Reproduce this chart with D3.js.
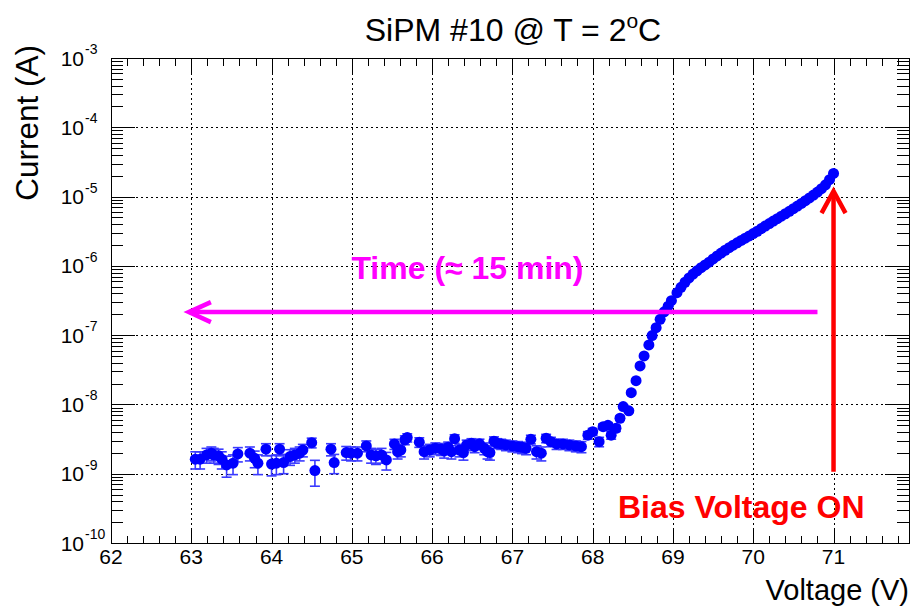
<!DOCTYPE html>
<html><head><meta charset="utf-8">
<script src="https://cdn.jsdelivr.net/npm/d3@7"></script>
<style>body{margin:0;background:#fff}svg{display:block}</style>
</head><body>
<svg id="c" width="916" height="609"></svg>
<script>
// ---------------- data ----------------
const voltage = [
  63.05,63.11,63.19,63.25,63.28,63.34,63.38,63.44,63.52,63.58,
  63.73,63.79,63.83,63.93,64.00,64.06,64.10,64.15,64.23,64.29,
  64.35,64.39,64.50,64.54,64.74,64.78,64.93,64.99,65.07,65.18,
  65.24,65.30,65.37,65.43,65.53,65.57,65.61,65.66,65.69,65.84,
  65.90,65.97,66.04,66.11,66.15,66.20,66.24,66.28,66.34,66.39,66.43,
  66.49,66.53,66.59,66.65,66.69,66.72,66.77,66.81,66.86,66.92,
  67.00,67.07,67.12,67.17,67.23,67.30,67.36,67.42,67.48,67.55,67.63,
  67.71,67.79,67.86,
  67.94,68.00,68.08,68.13,68.19,68.23,68.29,68.34,68.38,68.45,
  68.48,68.54,68.59,68.64,68.70,68.74,68.79,68.84,68.89,68.94,68.98,
  69.05,69.10,69.15,69.20,69.25,69.30,69.35,69.40,69.45,69.50,
  69.55,69.60,69.65,69.70,69.75,69.80,69.85,69.90,69.95,70.00,
  70.05,70.10,70.15,70.20,70.25,70.30,70.35,70.40,70.45,70.50,
  70.55,70.60,70.65,70.70,70.75,70.80,70.85,70.90,70.95,71.00
];
const current = [
  1.62e-9,1.62e-9,1.87e-9,1.98e-9,1.87e-9,1.81e-9,1.62e-9,1.34e-9,1.42e-9,1.93e-9,
  1.98e-9,1.67e-9,1.42e-9,2.26e-9,1.38e-9,1.42e-9,2.26e-9,1.45e-9,1.77e-9,1.87e-9,
  1.98e-9,2.20e-9,2.81e-9,1.11e-9,2.26e-9,1.45e-9,2.02e-9,1.98e-9,1.98e-9,2.52e-9,
  1.87e-9,1.81e-9,1.87e-9,1.58e-9,2.69e-9,2.08e-9,2.20e-9,3.07e-9,3.32e-9,2.85e-9,
  2.08e-9,2.20e-9,2.33e-9,2.28e-9,2.13e-9,2.41e-9,2.08e-9,3.20e-9,2.20e-9,2.02e-9,2.60e-9,
  2.75e-9,2.46e-9,2.70e-9,2.33e-9,2.08e-9,2.02e-9,2.95e-9,2.75e-9,2.69e-9,2.60e-9,
  2.52e-9,2.46e-9,2.40e-9,2.33e-9,3.14e-9,2.08e-9,1.98e-9,3.25e-9,2.90e-9,2.69e-9,2.69e-9,
  2.60e-9,2.52e-9,2.46e-9,
  3.6e-9,4.05e-9,2.9e-9,4.78e-9,5.0e-9,3.6e-9,4.53e-9,6.32e-9,9.3e-9,8.1e-9,
  1.48e-8,2.20e-8,3.59e-8,5.01e-8,7.22e-8,9.85e-8,1.28e-7,1.69e-7,2.17e-7,2.62e-7,3.14e-7,
  4.10e-7,4.90e-7,5.80e-7,6.70e-7,7.60e-7,8.50e-7,9.40e-7,1.03e-6,1.13e-6,1.26e-6,
  1.39e-6,1.53e-6,1.68e-6,1.83e-6,1.99e-6,2.15e-6,2.33e-6,2.51e-6,2.70e-6,2.92e-6,
  3.16e-6,3.45e-6,3.76e-6,4.08e-6,4.43e-6,4.80e-6,5.21e-6,5.65e-6,6.13e-6,6.68e-6,
  7.29e-6,7.96e-6,8.71e-6,9.55e-6,1.05e-5,1.16e-5,1.30e-5,1.48e-5,1.75e-5,2.16e-5
];
const currentErr = 0.45e-9;           // uncertainty of each current reading (A)
const xTickValues = [62,63,64,65,66,67,68,69,70,71];
const yDecadeExps = [-10,-9,-8,-7,-6,-5,-4,-3];
const titleMain = "SiPM #10 @ T = 2", titleSup = "o", titleEnd = "C";
const xTitle = "Voltage (V)", yTitle = "Current (A)";
const timeArrow = {label:"Time (\u2248 15 min)", from:70.80, to:62.97, level:2.15e-7, labelV:66.44, labelI:6.4e-7};
const biasArrow = {label:"Bias Voltage ON", at:71.0, from:1.07e-9, to:1.2e-5, labelV:69.85, labelI:2.3e-10};

// ---------------- layout ----------------
const X0 = 111, X1 = 909, Y0 = 58, Y1 = 543;
const FONT = "'Liberation Sans', Arial, Helvetica, sans-serif";
const svg = d3.select("#c");
const x = d3.scaleLinear().domain([62, 71.94]).range([X0, X1]);
const y = d3.scaleLog().domain([1e-10, 1e-3]).range([Y1, Y0]);
const px = v => Math.round(v) + 0.5;

// grid
const grid = svg.append("g").attr("stroke","#000").attr("stroke-width",1)
  .attr("stroke-dasharray","2,3").attr("shape-rendering","crispEdges");
grid.selectAll(".gv").data(xTickValues.filter(v => v > 62)).join("line")
  .attr("x1", d => px(x(d))).attr("x2", d => px(x(d))).attr("y1", Y0).attr("y2", Y1);
grid.selectAll(".gh").data(yDecadeExps.filter(e => e > -10 && e < -3).map(e => Math.pow(10, e))).join("line")
  .attr("y1", d => px(y(d))).attr("y2", d => px(y(d))).attr("x1", X0).attr("x2", X1);

// ticks
const ticks = svg.append("g").attr("stroke","#000").attr("stroke-width",1).attr("shape-rendering","crispEdges");
const xMinor = d3.range(62, 71.95, 0.2).filter(v => Math.abs(v - Math.round(v)) > 1e-6);
function xt(v, len){
  ticks.append("line").attr("x1",px(x(v))).attr("x2",px(x(v))).attr("y1",Y1).attr("y2",Y1-len);
  ticks.append("line").attr("x1",px(x(v))).attr("x2",px(x(v))).attr("y1",Y0).attr("y2",Y0+len);
}
xTickValues.forEach(v => xt(v, 15));
xMinor.forEach(v => xt(v, 7.5));
function yt(v, len){
  ticks.append("line").attr("y1",px(y(v))).attr("y2",px(y(v))).attr("x1",X0).attr("x2",X0+len);
  ticks.append("line").attr("y1",px(y(v))).attr("y2",px(y(v))).attr("x1",X1).attr("x2",X1-len);
}
yDecadeExps.forEach(e => yt(Math.pow(10,e), 24));
yDecadeExps.slice(0,-1).forEach(e => { for (let k=2;k<=9;k++) yt(k*Math.pow(10,e), 12); });

// frame
svg.append("rect").attr("x",X0+0.5).attr("y",Y0+0.5).attr("width",X1-X0).attr("height",Y1-Y0)
  .attr("fill","none").attr("stroke","#000").attr("stroke-width",1).attr("shape-rendering","crispEdges");

// tick labels
svg.append("g").selectAll("text").data(xTickValues).join("text")
  .attr("x", d => x(d)).attr("y", Y1 + 21).attr("text-anchor","middle")
  .attr("font-family",FONT).attr("font-size",21).text(d => d);
const yl = svg.append("g").attr("font-family",FONT);
yDecadeExps.forEach(e => {
  const yy = y(Math.pow(10,e));
  yl.append("text").attr("x",84).attr("y",yy+7.5).attr("text-anchor","end").attr("font-size",21).text("10");
  yl.append("text").attr("x",85).attr("y",yy-4).attr("font-size",14).text(String(e));
});

// data: error bars + markers
const pts = voltage.map((v,i) => ({v, c: current[i]}));
const eb = svg.append("g").attr("stroke","#3a3aff").attr("stroke-width",1.6);
pts.forEach(d => {
  const xx = x(d.v), yh = y(d.c + currentErr), ylo = y(Math.max(d.c - currentErr, 1e-11));
  eb.append("line").attr("x1",xx).attr("x2",xx).attr("y1",yh).attr("y2",ylo);
  eb.append("line").attr("x1",xx-5).attr("x2",xx+5).attr("y1",yh).attr("y2",yh);
  eb.append("line").attr("x1",xx-5).attr("x2",xx+5).attr("y1",ylo).attr("y2",ylo);
});
svg.append("g").selectAll("circle").data(pts).join("circle")
  .attr("cx", d => x(d.v)).attr("cy", d => y(d.c)).attr("r", 5.5).attr("fill","#0000ff");

// annotations
const tA = svg.append("g").attr("stroke","#ff00ff").attr("stroke-width",4.5).attr("fill","none");
const ty = y(timeArrow.level), tx0 = x(timeArrow.from), tx1 = x(timeArrow.to);
tA.append("line").attr("x1",tx0).attr("x2",tx1).attr("y1",ty).attr("y2",ty);
tA.append("polyline").attr("points",`${tx1+22},${ty-10} ${tx1},${ty} ${tx1+22},${ty+10}`);
svg.append("text").attr("x",x(timeArrow.labelV)).attr("y",y(timeArrow.labelI))
  .attr("text-anchor","middle").attr("font-family",FONT).attr("font-weight","bold")
  .attr("font-size",32).attr("fill","#ff00ff").text(timeArrow.label);

const bA = svg.append("g").attr("stroke","#ff0000").attr("stroke-width",4.5).attr("fill","none");
const bx = x(biasArrow.at), by0 = y(biasArrow.from), by1 = y(biasArrow.to);
bA.append("line").attr("x1",bx).attr("x2",bx).attr("y1",by0).attr("y2",by1);
bA.append("polyline").attr("points",`${bx-12},${by1+22} ${bx},${by1} ${bx+12},${by1+22}`);
svg.append("text").attr("x",x(biasArrow.labelV)).attr("y",y(biasArrow.labelI))
  .attr("text-anchor","middle").attr("font-family",FONT).attr("font-weight","bold")
  .attr("font-size",32).attr("fill","#ff0000").text(biasArrow.label);

// titles
const tt = svg.append("text").attr("x",513).attr("y",41).attr("text-anchor","middle")
  .attr("font-family",FONT).attr("font-size",32);
tt.append("tspan").text(titleMain);
tt.append("tspan").attr("dy",-13).attr("font-size",21).text(titleSup);
tt.append("tspan").attr("dy",13).text(titleEnd);
svg.append("text").attr("x",X1).attr("y",600).attr("text-anchor","end")
  .attr("font-family",FONT).attr("font-size",29).text(xTitle);
svg.append("text").attr("transform","translate(38,45) rotate(-90)").attr("text-anchor","end")
  .attr("font-family",FONT).attr("font-size",31.5).text(yTitle);
</script>
</body></html>
